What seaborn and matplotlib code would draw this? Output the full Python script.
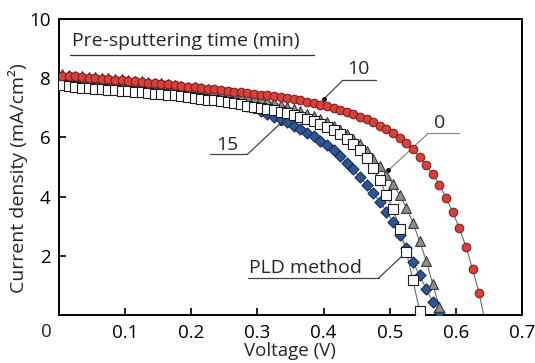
import numpy as np
import pandas as pd
import seaborn as sns
from matplotlib import pyplot as plt
from matplotlib import transforms

# shared voltage sweep (V)
volt = [0.005, 0.015, 0.025, 0.035, 0.045, 0.055, 0.065, 0.075, 0.085, 0.095,
        0.105, 0.115, 0.125, 0.135, 0.145, 0.155, 0.165, 0.175, 0.185, 0.195,
        0.205, 0.215, 0.225, 0.235, 0.245, 0.255, 0.265, 0.275, 0.285, 0.295,
        0.305, 0.315, 0.325, 0.335, 0.345, 0.355, 0.365, 0.375, 0.385, 0.395,
        0.405, 0.415, 0.425, 0.435, 0.445, 0.455, 0.465, 0.475, 0.485, 0.495,
        0.505, 0.515, 0.525, 0.535, 0.545, 0.555, 0.565, 0.575, 0.585, 0.595,
        0.605, 0.615, 0.625, 0.635]

# current density (mA/cm2) per pre-sputtering time
j_10min = [8.08, 8.06, 8.05, 8.02, 8.00, 7.99, 7.97, 7.95, 7.94, 7.92,
           7.90, 7.88, 7.87, 7.84, 7.82, 7.80, 7.78, 7.76, 7.74, 7.71,
           7.69, 7.66, 7.64, 7.62, 7.60, 7.57, 7.54, 7.52, 7.49, 7.46,
           7.44, 7.41, 7.38, 7.35, 7.31, 7.28, 7.24, 7.20, 7.15, 7.10,
           7.04, 6.98, 6.92, 6.85, 6.77, 6.69, 6.60, 6.50, 6.39, 6.27,
           6.14, 5.98, 5.80, 5.59, 5.35, 5.08, 4.77, 4.40, 3.97, 3.48,
           2.95, 2.32, 1.57, 0.75]
j_0min = [8.12, 8.10, 8.08, 8.06, 8.04, 8.02, 8.00, 7.98, 7.96, 7.95,
          7.93, 7.91, 7.89, 7.87, 7.84, 7.82, 7.79, 7.77, 7.74, 7.71,
          7.68, 7.65, 7.62, 7.59, 7.55, 7.51, 7.47, 7.43, 7.38, 7.33,
          7.28, 7.22, 7.16, 7.10, 7.03, 6.96, 6.88, 6.80, 6.71, 6.61,
          6.50, 6.38, 6.25, 6.11, 5.95, 5.77, 5.55, 5.28, 5.02, 4.72,
          4.42, 4.05, 3.63, 3.12, 2.50, 1.85, 1.05, 0.28]
j_15min = [8.00, 7.98, 7.96, 7.94, 7.92, 7.90, 7.88, 7.86, 7.84, 7.82,
           7.80, 7.78, 7.76, 7.74, 7.71, 7.68, 7.65, 7.62, 7.58, 7.55,
           7.51, 7.47, 7.43, 7.38, 7.33, 7.27, 7.21, 7.14, 7.06, 6.97,
           6.88, 6.79, 6.70, 6.60, 6.50, 6.39, 6.28, 6.16, 6.03, 5.89,
           5.73, 5.56, 5.37, 5.15, 4.92, 4.67, 4.40, 4.12, 3.82, 3.50,
           3.15, 2.72, 2.26, 1.80, 1.35, 0.90, 0.45, 0.13]
j_pld = [7.75, 7.72, 7.70, 7.67, 7.66, 7.64, 7.62, 7.60, 7.58, 7.57,
         7.55, 7.53, 7.51, 7.49, 7.47, 7.45, 7.43, 7.41, 7.38, 7.36,
         7.33, 7.30, 7.27, 7.24, 7.21, 7.18, 7.14, 7.11, 7.07, 7.03,
         6.99, 6.95, 6.91, 6.86, 6.81, 6.75, 6.69, 6.62, 6.54, 6.45,
         6.35, 6.23, 6.10, 5.95, 5.77, 5.56, 5.30, 4.98, 4.55, 4.05,
         3.58, 2.92, 2.15, 1.20, 0.15]

# open-circuit voltages where the fit lines meet the axis
voc = {"15": 0.578, "0": 0.581, "PLD": 0.547, "10": 0.642}

series = {
    "15": j_15min,
    "0": j_0min,
    "PLD": j_pld,
    "10": j_10min,
}
styles = {
    "15": dict(marker="D", color="#2f5597", edgecolor="#1b2d5a", s=32),
    "0": dict(marker="^", color="#8e8e8e", edgecolor="#3a3a3a", s=50),
    "PLD": dict(marker="s", color="white", edgecolor="#1e1e1e", s=44),
    "10": dict(marker="o", color="#d8403c", edgecolor="#7e2222", s=38),
}

sns.set_theme(style="ticks")
plt.rcParams["font.family"] = ["Open Sans", "DejaVu Sans"]
fig = plt.figure(figsize=(5.35, 3.63), dpi=100)
ax = fig.add_axes([0.110, 0.131, 0.866, 0.818])

for key, jvals in series.items():
    df = pd.DataFrame({"V": volt[: len(jvals)], "J": jvals})
    line_df = pd.concat([df, pd.DataFrame({"V": [voc[key]], "J": [0.0]})])
    sns.lineplot(data=line_df, x="V", y="J", ax=ax, color="#6b6b6b",
                 linewidth=0.8, sort=False, estimator=None, zorder=2)
    st = styles[key]
    sns.scatterplot(data=df, x="V", y="J", ax=ax, marker=st["marker"],
                    color=st["color"], edgecolor=st["edgecolor"], s=st["s"],
                    linewidth=0.8, zorder=3)

# annotations: label position, underline, pointer end
fs = 14
tfs = 13.5
ax.text(0.020, 9.23, "Pre-sputtering time (min)", fontsize=fs, va="center", ha="left")
ax.plot([0.017, 0.385], [8.76, 8.76], color="#333333", lw=0.9)

# label, text centre, underline (x0, x1, y), leader start side, pointer end, colour
notes = [
    ("10", (0.453, 8.29), (0.429, 0.479, 7.92), 0, (0.400, 7.28), "#444444"),
    ("0", (0.576, 6.47), (0.558, 0.605, 6.13), 0, (0.498, 4.89), "#8a8a8a"),
    ("15", (0.255, 5.73), (0.229, 0.285, 5.43), 1, (0.335, 6.47), "#444444"),
    ("PLD method", (0.373, 1.60), (0.286, 0.483, 1.26), 1, (0.520, 2.03), "#444444"),
]
for label, (tx, ty), (ux0, ux1, uy), side, (px, py), col in notes:
    ax.text(tx, ty, label, fontsize=fs, ha="center", va="center")
    ax.plot([ux0, ux1], [uy, uy], color=col, lw=0.9)
    ax.plot([ux1 if side else ux0, px], [uy, py], color=col, lw=0.9)
    ax.plot([px], [py], marker="o", ms=2.5, color="black")

ax.set_xlim(0, 0.7)
ax.set_ylim(0, 10)
ax.set_xticks([0.1, 0.2, 0.3, 0.4, 0.5, 0.6, 0.7])
ax.set_xticklabels(["0.1", "0.2", "0.3", "0.4", "0.5", "0.6", "0.7"])
ax.set_yticks([2, 4, 6, 8, 10])
ax.set_yticklabels(["2", "4", "6", "8", "10"])
ax.tick_params(direction="in", length=5, width=1.2, labelsize=tfs, colors="black")
ax.tick_params(axis="x", pad=6)
ax.tick_params(axis="y", pad=6)
trans = transforms.blended_transform_factory(ax.transAxes, ax.transAxes)
ax.text(-0.026, -0.055, "0", fontsize=tfs, ha="center", va="center", transform=trans)
for sp in ax.spines.values():
    sp.set_visible(True)
    sp.set_linewidth(1.4)
    sp.set_color("black")
ax.set_xlabel("Voltage (V)", fontsize=13.5)
ax.set_ylabel("Current density (mA/cm²)", fontsize=fs)
ax.xaxis.set_label_coords(0.499, -0.088)
ax.yaxis.set_label_coords(-0.066, 0.463)

fig.savefig("out.png", dpi=100)
